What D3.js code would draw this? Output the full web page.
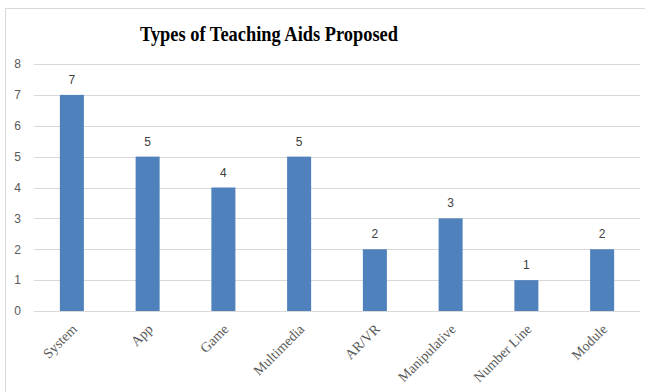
<!DOCTYPE html>
<html><head><meta charset="utf-8">
<script src="https://cdn.jsdelivr.net/npm/d3@7"></script>
<style>body{margin:0;background:#fff;}svg{display:block;}</style>
</head><body>
<svg id="c" width="645" height="392"></svg>
<script>
const categories = ["System","App","Game","Multimedia","AR/VR","Manipulative","Number Line","Module"];
const values = [7,5,4,5,2,3,1,2];
const yTicks = [0,1,2,3,4,5,6,7,8];
const title = "Types of Teaching Aids Proposed";

const svg = d3.select("#c");
// chart border
svg.append("rect").attr("x",5.5).attr("y",8.5).attr("width",650).attr("height",400)
  .attr("fill","#fff").attr("stroke","#d9d9d9").attr("stroke-width",1);

const x = d3.scaleBand().domain(categories).range([34,640]).paddingInner(0.683).paddingOuter(0.3415);
const y = d3.scaleLinear().domain([0,8]).range([311,64]);

svg.append("text").attr("x",269).attr("y",41).attr("text-anchor","middle")
  .attr("font-family","Liberation Serif, serif").attr("font-weight","bold").attr("font-size",22)
  .attr("textLength",258).attr("lengthAdjust","spacingAndGlyphs")
  .attr("fill","#000").text(title);

// gridlines
const grid = svg.append("g");
grid.selectAll("line").data(yTicks).join("line")
  .attr("x1",34).attr("x2",640).attr("y1",d=>Math.round(y(d))+0.5).attr("y2",d=>Math.round(y(d))+0.5)
  .attr("stroke","#d9d9d9").attr("stroke-width",1);

// y axis labels
const yAxis = d3.axisLeft(y).tickValues(yTicks).tickSize(0).tickPadding(0);
const ya = svg.append("g").attr("transform","translate(21,0)").call(yAxis);
ya.select(".domain").remove();
ya.selectAll("text").attr("font-family","Liberation Sans, Arial, sans-serif").attr("font-size",12).attr("fill","#595959");

// bars
svg.append("g").selectAll("rect").data(values).join("rect")
  .attr("x",(d,i)=>x(categories[i])).attr("width",x.bandwidth())
  .attr("y",d=>y(d)).attr("height",d=>y(0)-y(d)).attr("fill","#4f81bd");

// data labels
svg.append("g").selectAll("text").data(values).join("text")
  .attr("x",(d,i)=>x(categories[i])+x.bandwidth()/2).attr("y",d=>y(d)-11)
  .attr("text-anchor","middle").attr("font-family","Liberation Sans, Arial, sans-serif")
  .attr("font-size",12).attr("fill","#404040").text(d=>d);

// x axis labels
const xAxis = d3.axisBottom(x).tickSize(0).tickPadding(0);
const xa = svg.append("g").attr("transform","translate(0,311)").call(xAxis);
xa.select(".domain").remove();
xa.selectAll("text").attr("font-family","Liberation Serif, serif").attr("font-size",14).attr("fill","#595959")
  .attr("text-anchor","end").attr("dy",0)
  .attr("transform","translate(6,19) rotate(-45)");
</script>
</body></html>
